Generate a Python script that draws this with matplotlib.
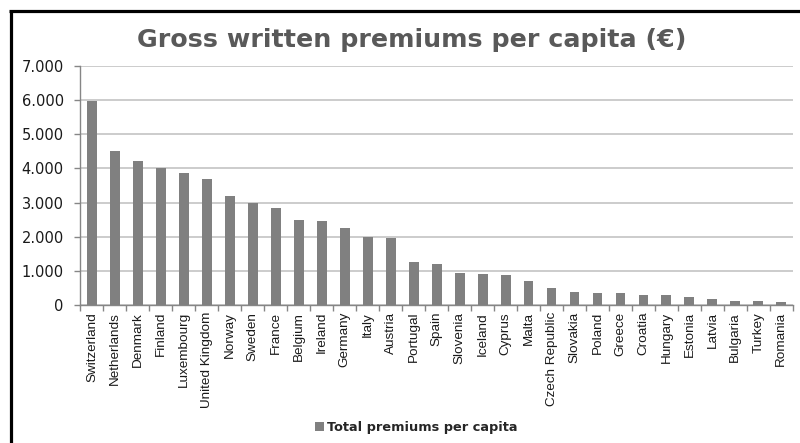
import matplotlib
matplotlib.use("Agg")
import matplotlib.pyplot as plt
from matplotlib.lines import Line2D
from matplotlib.ticker import FixedLocator, FuncFormatter
import numpy as np

countries = [
    "Switzerland", "Netherlands", "Denmark", "Finland", "Luxembourg",
    "United Kingdom", "Norway", "Sweden", "France", "Belgium", "Ireland",
    "Germany", "Italy", "Austria", "Portugal", "Spain", "Slovenia",
    "Iceland", "Cyprus", "Malta", "Czech Republic", "Slovakia", "Poland",
    "Greece", "Croatia", "Hungary", "Estonia", "Latvia", "Bulgaria",
    "Turkey", "Romania",
]
premiums = [
    5970, 4500, 4220, 4000, 3875, 3700, 3195, 3000, 2850, 2480, 2460,
    2265, 2000, 1965, 1255, 1195, 930, 910, 872, 705, 490, 392, 362,
    342, 294, 294, 246, 166, 126, 106, 88,
]
y_ticks = [0, 1000, 2000, 3000, 4000, 5000, 6000, 7000]
title = "Gross written premiums per capita (\u20ac)"
series_name = "Total premiums per capita"

bar_color = "#808080"
grid_color = "#bfbfbf"
axis_color = "#868686"

fig = plt.figure(figsize=(8.0, 4.43), dpi=100)
ax = fig.add_axes([0.1006, 0.3115, 0.8904, 0.5395])

x = np.arange(len(countries))
ax.bar(x, premiums, width=0.43, color=bar_color, label=series_name, zorder=3)

ax.set_xlim(-0.5, len(countries) - 0.5)
ax.set_ylim(0, 7000)
ax.set_yticks(y_ticks)
ax.yaxis.set_major_formatter(FuncFormatter(lambda v, p: f"{int(v):,}".replace(",", ".")))
ax.grid(axis="y", color=grid_color, linewidth=1.1, zorder=0)
ax.set_axisbelow(True)

# category labels on major ticks (hidden), boundary ticks as minor
ax.set_xticks(x)
ax.set_xticklabels(countries, rotation=90, family="Liberation Sans",
                   fontsize=9.7, color="#1a1a1a")
ax.tick_params(axis="x", which="major", length=0, pad=5)
ax.xaxis.set_minor_locator(FixedLocator(np.arange(-0.5, len(countries), 1.0)))
ax.tick_params(axis="x", which="minor", length=4, color=axis_color, width=1)
ax.tick_params(axis="y", length=4, color=axis_color, width=1, pad=8,
               labelsize=10.5, labelcolor="#1a1a1a")
for lbl in ax.get_yticklabels():
    lbl.set_family("DejaVu Sans")

for side in ("top", "right"):
    ax.spines[side].set_visible(False)
for side in ("left", "bottom"):
    ax.spines[side].set_color(axis_color)
    ax.spines[side].set_linewidth(1)

fig.text(0.514, 0.909, title, ha="center", va="center", fontsize=18.3,
         fontweight="bold", color="#595959", family="DejaVu Sans")

leg = fig.legend(loc="center", bbox_to_anchor=(0.52, 0.034), frameon=False,
                 handlelength=0.7, handleheight=0.7, handletextpad=0.2,
                 prop={"family": "DejaVu Sans", "weight": "bold", "size": 9.3})
for t in leg.get_texts():
    t.set_color("#262626")

# outer frame on the left and top
fig.add_artist(Line2D([0.0132, 0.0132], [0.0, 0.9752], transform=fig.transFigure,
                      color="black", linewidth=2.3, solid_capstyle="butt"))
fig.add_artist(Line2D([0.0113, 1.0], [0.9752, 0.9752], transform=fig.transFigure,
                      color="black", linewidth=2.3, solid_capstyle="butt"))

fig.savefig("out.png", dpi=100, facecolor="white")
